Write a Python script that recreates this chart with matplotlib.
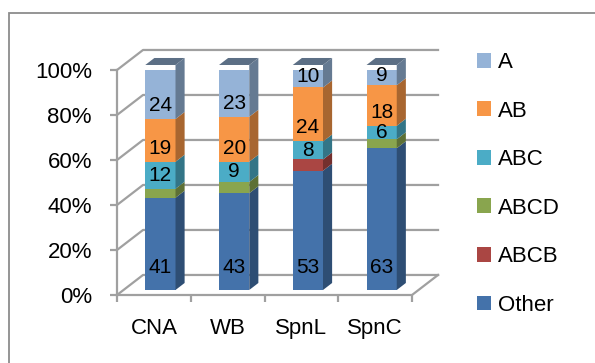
import matplotlib
matplotlib.use("Agg")
import matplotlib.pyplot as plt
from matplotlib.patches import Polygon, Rectangle
from matplotlib.colors import to_rgb
import numpy as np

plt.rcParams['font.family'] = ['Liberation Sans', 'DejaVu Sans']

# data (percent of each sample)
categories = ['CNA', 'WB', 'SpnL', 'SpnC']
series = ['Other', 'ABCB', 'ABCD', 'ABC', 'AB', 'A']
other = [41, 43, 53, 63]
abcb = [0, 0, 5, 0]
abcd = [4, 5, 0, 4]
abc = [12, 9, 8, 6]
ab = [19, 20, 24, 18]
a = [24, 23, 10, 9]
labelled = ['Other', 'ABC', 'AB', 'A']

values = [other, abcb, abcd, abc, ab, a]
colors = ['#4472AA', '#AA4643', '#89A54E', '#4BACC6', '#F79646', '#95B3D7']
yticks = [0, 20, 40, 60, 80, 100]

# fake 3d depth (data units)
DX, DY = 0.353, 8.9      # back wall offset
F = 0.25                 # bar front face position in depth
BD = 0.35                # bar depth fraction
W = 0.41                 # bar width
grid_col = '#A0A0A0'
FS = 16


def shade(c, k):
    r, g, b = to_rgb(c)
    return (r * k, g * k, b * k)


fig = plt.figure(figsize=(5.95, 3.63), dpi=100)
ax = fig.add_axes([117 / 595, 68 / 363, 295 / 595, 225 / 363])
ax.set_xlim(-0.5, 3.5)
ax.set_ylim(0, 100)
for s in ax.spines.values():
    s.set_visible(False)

# border of chart area
fig.patches.append(Rectangle((9 / 595, -0.1), 1.2, 1 - 13 / 363 + 0.1,
                             transform=fig.transFigure, fill=False,
                             edgecolor='#8C8C8C', lw=1.3))

# walls and gridlines
x0, x1 = -0.5, 3.5
for t in yticks:
    ax.plot([x0, x0 + DX, x1 + DX], [t, t + DY, t + DY], color=grid_col,
            lw=1.6, clip_on=False, zorder=1)
ax.plot([x0, x1, x1 + DX], [0, 0, DY], color=grid_col, lw=1.6,
        clip_on=False, zorder=1)
ax.plot([x0, x0], [0, 100], color=grid_col, lw=1.6, clip_on=False, zorder=1)

ax.set_yticks(yticks)
ax.set_yticklabels([f'{t}%' for t in yticks])
ax.set_xticks(np.arange(-0.5, 4, 1))
ax.set_xticklabels([])
ax.tick_params(axis='both', color=grid_col, width=1.6, length=5)
ax.tick_params(axis='y', labelsize=FS, pad=13)
for i, c in enumerate(categories):
    ax.text(i, -15, c, ha='center', va='center', fontsize=FS)

x = np.arange(len(categories))
xf = x + F * DX
bottoms = np.zeros(len(categories))
bdx, bdy = BD * DX, BD * DY
for name, vals, col in zip(series, values, colors):
    vals = np.array(vals, dtype=float)
    b0 = bottoms + F * DY
    ax.bar(xf, vals, W, bottom=b0, color=col, zorder=3, label=name,
           linewidth=0)
    for i in range(len(categories)):
        if vals[i] <= 0:
            continue
        xr = xf[i] + W / 2
        side = [(xr, b0[i]), (xr + bdx, b0[i] + bdy),
                (xr + bdx, b0[i] + vals[i] + bdy), (xr, b0[i] + vals[i])]
        ax.add_patch(Polygon(side, closed=True, facecolor=shade(col, 0.68),
                             edgecolor='none', zorder=3, clip_on=False))
        if name == 'A':
            tp = b0[i] + vals[i]
            xl = xf[i] - W / 2
            top = [(xl, tp), (xr, tp), (xr + bdx, tp + bdy), (xl + bdx, tp + bdy)]
            ax.add_patch(Polygon(top, closed=True, facecolor=shade(col, 0.62),
                                 edgecolor='none', zorder=3, clip_on=False))
        if name in labelled:
            if name == 'Other':
                ly = b0[i] + 10
            else:
                ly = b0[i] + min(vals[i] / 2, 6)
            ax.text(xf[i], ly, f'{int(vals[i])}', ha='center', va='center',
                    fontsize=FS - 1, zorder=5)
    bottoms = bottoms + vals

handles, labels = ax.get_legend_handles_labels()
leg = fig.legend(handles[::-1], labels[::-1], loc='upper left',
                 bbox_to_anchor=(477 / 595, 1 - 52 / 363), frameon=False,
                 fontsize=FS, handlelength=0.65, handleheight=0.65,
                 labelspacing=1.24, handletextpad=0.3, borderpad=0,
                 borderaxespad=0)

fig.savefig('out.png', dpi=100)
